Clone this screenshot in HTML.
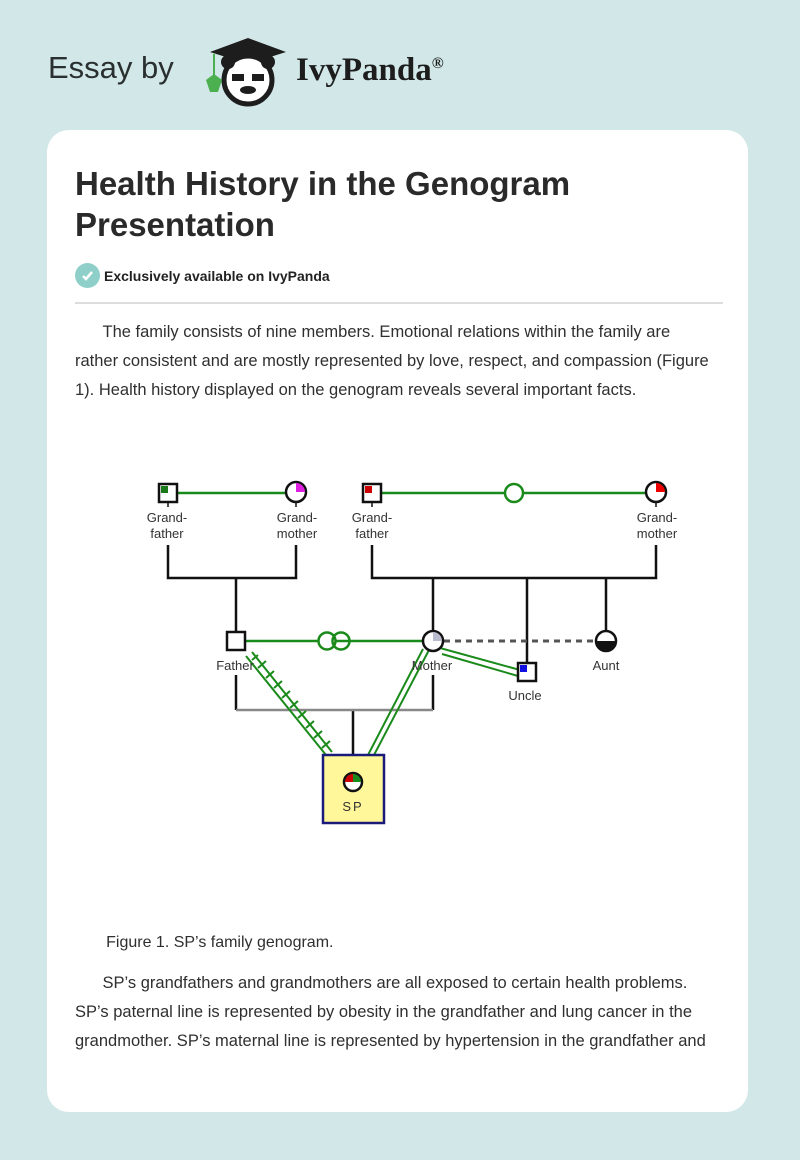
<!DOCTYPE html>
<html><head><meta charset="utf-8"><style>
*{margin:0;padding:0;box-sizing:border-box}
body{width:800px;height:1160px;background:#d2e8e8;font-family:"Liberation Sans",Arial,sans-serif;position:relative;overflow:hidden;color:#2a2a2a}
.hdr{position:absolute;left:48px;top:50px;font-size:31px;color:#2a2f2f}
.brand{position:absolute;left:296px;top:52px;font-family:"Liberation Serif",serif;font-weight:bold;font-size:33px;color:#1d1d1d}
.card{position:absolute;left:47px;top:130px;width:701px;height:982px;background:#fff;border-radius:22px}
h1{position:absolute;left:75px;top:163px;font-size:33px;line-height:41px;font-weight:bold;color:#2a2a2a}
.excl{position:absolute;left:104px;top:268px;font-size:14px;font-weight:bold;color:#222}
.chk{position:absolute;left:75px;top:263px;width:25px;height:25px;border-radius:50%;background:#8fcfca}
.hr{position:absolute;left:75px;top:302px;width:648px;height:2px;background:#ddd}
.p{position:absolute;left:75px;width:650px;font-size:16.5px;line-height:29px;color:#2f2f2f}
svg text{font-family:"Liberation Sans",Arial,sans-serif}
</style></head><body>
<div class="hdr">Essay by</div>
<svg style="position:absolute;left:200px;top:36px" width="92" height="72" viewBox="0 0 92 72">
<polygon points="10,16 48,2 86,16 48,28" fill="#1d1d1d"/>
<circle cx="48" cy="44" r="24" fill="#fff" stroke="#1d1d1d" stroke-width="5"/>
<circle cx="28" cy="26" r="7" fill="#1d1d1d"/><circle cx="68" cy="26" r="7" fill="#1d1d1d"/>
<rect x="32" y="38" width="12" height="7" fill="#1d1d1d"/><rect x="52" y="38" width="12" height="7" fill="#1d1d1d"/>
<ellipse cx="48" cy="54" rx="8" ry="4" fill="#1d1d1d"/>
<line x1="14" y1="18" x2="14" y2="42" stroke="#4caf50" stroke-width="2"/>
<polygon points="6,44 14,38 22,44 18,56 10,56" fill="#4caf50"/>
</svg>
<div class="brand">IvyPanda<sup style="font-size:16px">®</sup></div>
<div class="card"></div>
<h1>Health History in the Genogram<br>Presentation</h1>
<div class="chk"><svg width="25" height="25"><polyline points="8,13 11,16 17,9" fill="none" stroke="#fff" stroke-width="2.5"/></svg></div>
<div class="excl">Exclusively available on IvyPanda</div>
<div class="hr"></div>
<div class="p" style="top:318px;width:700px;white-space:nowrap">&nbsp;&nbsp;&nbsp;&nbsp;&nbsp;&nbsp;The family consists of nine members. Emotional relations within the family are<br>rather consistent and are mostly represented by love, respect, and compassion (Figure<br>1). Health history displayed on the genogram reveals several important facts.</div>

<svg style="position:absolute;left:0;top:0" width="800" height="1160">
<g stroke="#111" stroke-width="2.5" fill="none">
<path d="M168,545V578H296V545M236,578V631M372,545V578H656V545M433,578V630M527,578V662M606,578V630"/>
<path d="M236,675V710M433,675V710M353,710V755"/>
</g>
<line x1="236" y1="710" x2="433" y2="710" stroke="#888" stroke-width="2.5"/>
<g stroke="#1a8a1a" stroke-width="2.5" fill="none">
<line x1="178" y1="493" x2="286" y2="493"/>
<line x1="382" y1="493" x2="646" y2="493"/>
<line x1="246" y1="641" x2="423" y2="641"/>
</g>
<circle cx="514" cy="493" r="9" fill="#fff" stroke="#1a8a1a" stroke-width="2.5"/>
<circle cx="327" cy="641" r="8.5" fill="#fff" stroke="#1a8a1a" stroke-width="2.5"/>
<circle cx="341" cy="641" r="8.5" fill="none" stroke="#1a8a1a" stroke-width="2.5"/>
<line x1="444" y1="641" x2="596" y2="641" stroke="#555" stroke-width="3" stroke-dasharray="6,5"/>
<g stroke="#1a8a1a" stroke-width="2" fill="none">
<line x1="440" y1="648" x2="520" y2="670"/><line x1="442" y1="654" x2="518" y2="676"/>
<line x1="246" y1="656" x2="326" y2="755"/><line x1="252" y1="652" x2="332" y2="752"/>
<path d="M258,668l8-7M266,678l8-7M274,688l8-7M282,698l8-7M290,708l8-7M298,718l8-7M306,728l8-7M314,738l8-7M322,748l8-7M252,660l6-5"/>
<line x1="423" y1="649" x2="368" y2="755"/><line x1="429" y1="650" x2="374" y2="755"/>
</g>
<g stroke="#111" stroke-width="2.5">
<rect x="159" y="484" width="18" height="18" fill="#fff"/>
<circle cx="296" cy="492" r="10" fill="#fff"/>
<rect x="363" y="484" width="18" height="18" fill="#fff"/>
<circle cx="656" cy="492" r="10" fill="#fff"/>
<rect x="227" y="632" width="18" height="18" fill="#fff"/>
<circle cx="433" cy="641" r="10" fill="#fff"/>
<circle cx="606" cy="641" r="10" fill="#fff"/>
<rect x="518" y="663" width="18" height="18" fill="#fff"/>
</g>
<rect x="161" y="486" width="7" height="7" fill="#1a7a1a"/>
<path d="M296,492V483A9,9 0 0 1 305,492Z" fill="#e020e0"/>
<rect x="365" y="486" width="7" height="7" fill="#c00"/>
<path d="M656,492V483A9,9 0 0 1 665,492Z" fill="#e00"/>
<path d="M433,641V632A9,9 0 0 1 442,641Z" fill="#b8bccc"/>
<path d="M597,641A9,9 0 0 0 615,641Z" fill="#111"/>
<rect x="520" y="665" width="7" height="7" fill="#1010e0"/>
<g stroke="#111" stroke-width="1.5"><line x1="168" y1="502" x2="168" y2="507"/><line x1="296" y1="502" x2="296" y2="507"/><line x1="372" y1="502" x2="372" y2="507"/><line x1="656" y1="502" x2="656" y2="507"/></g>
<rect x="323" y="755" width="61" height="68" fill="#fff799" stroke="#1a1a7a" stroke-width="2.5"/>
<circle cx="353" cy="782" r="9" fill="#fff" stroke="#111" stroke-width="2.5"/>
<path d="M353,782H345A8,8 0 0 1 353,774Z" fill="#c00"/>
<path d="M353,782V774A8,8 0 0 1 361,782Z" fill="#1a8a1a"/>
<g font-size="13" fill="#333" text-anchor="middle">
<text x="167" y="522">Grand-</text><text x="167" y="538">father</text>
<text x="297" y="522">Grand-</text><text x="297" y="538">mother</text>
<text x="372" y="522">Grand-</text><text x="372" y="538">father</text>
<text x="657" y="522">Grand-</text><text x="657" y="538">mother</text>
<text x="235" y="670">Father</text><text x="432" y="670">Mother</text>
<text x="606" y="670">Aunt</text><text x="525" y="700">Uncle</text>
<text x="353" y="811" letter-spacing="2">SP</text>
</g>
</svg>

<div class="p" style="top:928px;font-size:16px">&nbsp;&nbsp;&nbsp;&nbsp;&nbsp;&nbsp;&nbsp;Figure 1. SP’s family genogram.</div>
<div class="p" style="top:969px">&nbsp;&nbsp;&nbsp;&nbsp;&nbsp;&nbsp;SP’s grandfathers and grandmothers are all exposed to certain health problems. SP’s paternal line is represented by obesity in the grandfather and lung cancer in the grandmother. SP’s maternal line is represented by hypertension in the grandfather and</div>
</body></html>
